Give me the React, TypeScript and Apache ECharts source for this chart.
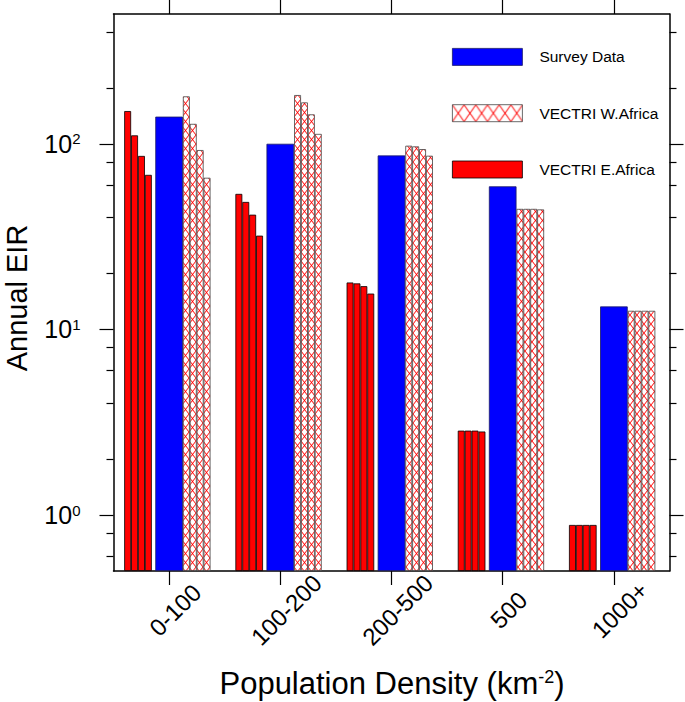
import React, { useEffect, useRef } from "react";
import * as echarts from "echarts";

const categories = ["0-100", "100-200", "200-500", "500", "1000+"];
const surveyData = [140, 100, 86.5, 59, 13.3];
const eAfrica1 = [150, 53.7, 17.9, 2.85, 0.885];
const eAfrica2 = [111, 48.6, 17.7, 2.85, 0.885];
const eAfrica3 = [86, 41.5, 17.1, 2.85, 0.885];
const eAfrica4 = [68, 32, 15.6, 2.82, 0.885];
const wAfrica1 = [180, 183, 97.6, 44.6, 12.6];
const wAfrica2 = [128, 167, 96.8, 44.6, 12.6];
const wAfrica3 = [92.5, 144, 93.6, 44.6, 12.6];
const wAfrica4 = [65.6, 113, 86.2, 44.3, 12.6];
const majorTicks = [1, 10, 100];
const minorTicks = [0.6, 0.8, 2, 4, 6, 8, 20, 40, 60, 80, 200, 400];

const FONT = '"Liberation Sans", Arial, Helvetica, sans-serif';

function makeHatch(w: number, h: number, lw: number, s: number) {
  const c = document.createElement("canvas");
  c.width = Math.round(w * s);
  c.height = Math.round(h * s);
  const ctx = c.getContext("2d")!;
  ctx.fillStyle = "#ffffff";
  ctx.fillRect(0, 0, c.width, c.height);
  ctx.strokeStyle = "#ff0000";
  ctx.lineWidth = lw * s;
  ctx.beginPath();
  ctx.moveTo(0, 0);
  ctx.lineTo(c.width, c.height);
  ctx.moveTo(c.width, 0);
  ctx.lineTo(0, c.height);
  ctx.stroke();
  return { image: c, repeat: "repeat", imageWidth: w, imageHeight: h } as any;
}

export default function App() {
  const ref = useRef<HTMLDivElement>(null);
  useEffect(() => {
    if (!ref.current) return;
    const chart = echarts.init(ref.current, null, { renderer: "svg" });
    const hatch = makeHatch(7, 9, 0.8, 4);
    const hatchLegend = makeHatch(11.7, 17, 0.9, 10);

    const redW = 6.9;
    const blueW = 27.6;
    const gapW = 3.5;

    const redSeries = [eAfrica1, eAfrica2, eAfrica3, eAfrica4].map((d) => ({
      type: "bar",
      name: "VECTRI E.Africa",
      data: d,
      barWidth: redW,
      barGap: "0%",
      itemStyle: { color: "#ff0000", borderColor: "#000000", borderWidth: 0.8 },
    }));
    const whiteSeries = [wAfrica1, wAfrica2, wAfrica3, wAfrica4].map((d) => ({
      type: "bar",
      name: "VECTRI W.Africa",
      data: d,
      barWidth: redW,
      barGap: "0%",
      itemStyle: { color: hatch, borderColor: "#444444", borderWidth: 0.8 },
    }));
    const spacer = (n: string) => ({
      type: "bar",
      name: n,
      data: categories.map(() => null),
      barWidth: gapW,
      barGap: "0%",
      itemStyle: { color: "transparent" },
    });

    const yCommon = {
      type: "log",
      logBase: 10,
      min: 0.5,
      max: 500,
      startValue: 0.5,
      splitLine: { show: false },
      minorTick: { show: false },
      minorSplitLine: { show: false },
    };

    const option: any = {
      animation: false,
      grid: {
        left: 113.5,
        right: 15.5,
        top: 14,
        bottom: 131,
        containLabel: false,
        outerBoundsMode: "none",
      },
      legend: {
        left: 447,
        top: 43,
        orient: "vertical",
        itemWidth: 70,
        itemHeight: 17,
        itemGap: 38.5,
        icon: "rect",
        selectedMode: false,
        textStyle: {
          fontFamily: FONT,
          fontSize: 15.5,
          color: "#000",
          padding: [0, 0, 0, 12],
        },
        data: [
          { name: "Survey Data", itemStyle: { color: "#0000ff", borderColor: "#1a1a66", borderWidth: 0.8 } },
          { name: "VECTRI W.Africa", itemStyle: { color: hatchLegend, borderColor: "#444444", borderWidth: 0.8 } },
          { name: "VECTRI E.Africa", itemStyle: { color: "#ff0000", borderColor: "#000000", borderWidth: 0.8 } },
        ],
      },
      xAxis: [
        {
          type: "category",
          data: categories,
          position: "bottom",
          axisLine: { show: true, lineStyle: { color: "#000", width: 1.5 } },
          axisTick: { show: true, alignWithLabel: true, length: 14, lineStyle: { color: "#000", width: 1.2 } },
          axisLabel: {
            rotate: 45,
            align: "center",
            verticalAlign: "middle",
            margin: 45,
            padding: [0, 0, 0, 17],
            fontFamily: FONT,
            fontSize: 24,
            color: "#000",
          },
        },
        {
          type: "category",
          data: categories,
          position: "top",
          axisLine: { show: true, lineStyle: { color: "#000", width: 1.5 } },
          axisTick: { show: true, alignWithLabel: true, length: 14, lineStyle: { color: "#000", width: 1.2 } },
          axisLabel: { show: false },
        },
      ],
      yAxis: [
        {
          ...yCommon,
          position: "left",
          axisLine: { show: true, lineStyle: { color: "#000", width: 1.5 } },
          axisTick: { show: true, length: 14, customValues: majorTicks, lineStyle: { color: "#000", width: 1.2 } },
          axisLabel: {
            customValues: majorTicks,
            margin: 33,
            formatter: (v: number) => `{b|10}{s|${Math.round(Math.log10(v))}}`,
            rich: {
              b: { fontFamily: FONT, fontSize: 25, color: "#000" },
              s: { fontFamily: FONT, fontSize: 15, color: "#000", verticalAlign: "top" },
            },
          },
        },
        {
          ...yCommon,
          position: "left",
          axisLine: { show: false },
          axisTick: { show: true, length: 7, customValues: minorTicks, lineStyle: { color: "#000", width: 1.2 } },
          axisLabel: { show: false },
        },
        {
          ...yCommon,
          position: "right",
          axisLine: { show: true, lineStyle: { color: "#000", width: 1.5 } },
          axisTick: { show: true, length: 14, customValues: majorTicks, lineStyle: { color: "#000", width: 1.2 } },
          axisLabel: { show: false },
        },
        {
          ...yCommon,
          position: "right",
          axisLine: { show: false },
          axisTick: { show: true, length: 7, customValues: minorTicks, lineStyle: { color: "#000", width: 1.2 } },
          axisLabel: { show: false },
        },
      ],
      series: [
        ...redSeries,
        spacer("gapA"),
        {
          type: "bar",
          name: "Survey Data",
          data: surveyData,
          barWidth: blueW,
          barGap: "0%",
          itemStyle: { color: "#0000ff", borderColor: "#1a1a66", borderWidth: 0.8 },
        },
        ...whiteSeries,
        spacer("gapB"),
      ],
      graphic: [
        {
          type: "text",
          x: 17,
          y: 298,
          rotation: Math.PI / 2,
          style: {
            text: "Annual EIR",
            fontFamily: FONT,
            fontSize: 29,
            fill: "#000",
            align: "center",
            verticalAlign: "middle",
          },
        },
        {
          type: "text",
          x: 392,
          y: 683,
          style: {
            text: "Population Density (km{s|-2})",
            fontFamily: FONT,
            fontSize: 31,
            fill: "#000",
            align: "center",
            verticalAlign: "middle",
            rich: {
              s: { fontFamily: FONT, fontSize: 18, fill: "#000", verticalAlign: "top" },
            },
          },
        },
      ],
    };
    chart.setOption(option);
    return () => chart.dispose();
  }, []);
  return (
    <div
      ref={ref}
      style={{ position: "fixed", left: 0, top: 0, width: 685, height: 702, background: "#fff" }}
    />
  );
}
